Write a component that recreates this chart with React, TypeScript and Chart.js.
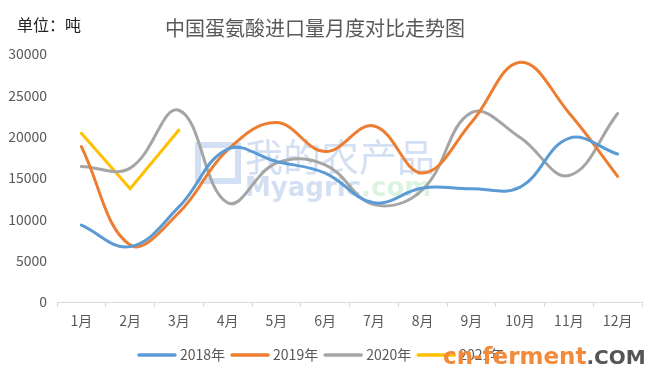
import React, { useEffect, useRef } from "react";
import { Chart, registerables } from "chart.js";

Chart.register(...registerables);

const months = ["1月", "2月", "3月", "4月", "5月", "6月", "7月", "8月", "9月", "10月", "11月", "12月"];
const seriesNames = ["2018年", "2019年", "2020年", "2021年"];
const s2018 = [9300, 6700, 11500, 18500, 17000, 15600, 12000, 13800, 13700, 13900, 19800, 17900];
const s2019 = [18800, 6900, 10800, 18400, 21700, 18200, 21300, 15600, 21700, 29000, 22900, 15200];
const s2020 = [16400, 16200, 23200, 12000, 16800, 16600, 11800, 13600, 22900, 19900, 15300, 22800];
const s2021 = [20400, 13700, 20800];
const yMin = 0;
const yMax = 30000;
const yStep = 5000;
const titleText = "中国蛋氨酸进口量月度对比走势图";
const unitText = "单位：吨";

const colors = ["#5B9BD5", "#ED7D31", "#A5A5A5", "#FFC000"];
const FONT = '"Noto Sans CJK SC", "Noto Sans", sans-serif';

const textPlugin = {
  id: "textPlugin",
  beforeDatasetsDraw(chart: any) {
    const ctx = chart.ctx;
    ctx.save();
    ctx.textBaseline = "middle";
    ctx.textAlign = "left";
    ctx.font = `38px ${FONT}`;
    ctx.fillStyle = "rgba(110,150,215,0.3)";
    ctx.fillText("我的农产品", 245, 157);
    ctx.font = `bold 26px "DejaVu Sans", sans-serif`;
    ctx.fillText("Myagric", 245, 189);
    const w = ctx.measureText("Myagric").width;
    ctx.fillStyle = "rgba(140,215,160,0.3)";
    ctx.fillText(".com", 245 + w, 189);
    ctx.strokeStyle = "rgba(110,150,215,0.3)";
    ctx.lineWidth = 6;
    ctx.strokeRect(198, 145, 40, 36);
    ctx.restore();
  },
  afterDraw(chart: any) {
    const ctx = chart.ctx;
    ctx.save();
    ctx.textBaseline = "middle";
    ctx.textAlign = "left";
    ctx.font = `16px ${FONT}`;
    ctx.fillStyle = "#222222";
    ctx.fillText(unitText, 17, 25);
    ctx.font = `20px ${FONT}`;
    ctx.fillStyle = "#595959";
    ctx.fillText(titleText, 165, 28);
    ctx.font = `14px ${FONT}`;
    let x = 138;
    const y = 355;
    chart.data.datasets.forEach((ds: any) => {
      ctx.strokeStyle = ds.borderColor;
      ctx.lineWidth = 3.5;
      ctx.lineCap = "round";
      ctx.beginPath();
      ctx.moveTo(x + 1, y);
      ctx.lineTo(x + 37, y);
      ctx.stroke();
      ctx.fillStyle = "#595959";
      ctx.fillText(ds.label, x + 42, y);
      x += 42 + ctx.measureText(ds.label).width + 6;
    });
    ctx.font = `bold 23px "DejaVu Sans", sans-serif`;
    ctx.fillStyle = "#F28A3A";
    ctx.fillText("cn-ferment", 443, 358);
    const cw = ctx.measureText("cn-ferment").width;
    ctx.font = `bold 20px "DejaVu Sans", sans-serif`;
    ctx.fillStyle = "#555555";
    ctx.fillText(".COM", 443 + cw, 359);
    ctx.restore();
  },
};

export default function App() {
  const ref = useRef<HTMLCanvasElement>(null);
  useEffect(() => {
    if (!ref.current) return;
    const dataArr = [s2018, s2019, s2020, s2021];
    const chart = new Chart(ref.current, {
      type: "line",
      data: {
        labels: months,
        datasets: dataArr.map((d, i) => ({
          label: seriesNames[i],
          data: d,
          borderColor: colors[i],
          backgroundColor: colors[i],
          borderWidth: 3,
          pointRadius: 0,
          tension: i === 3 ? 0 : 0.4,
          fill: false,
          borderCapStyle: "round" as const,
        })),
      },
      options: {
        responsive: false,
        animation: false,
        layout: { padding: { top: 54, right: 8, bottom: 50, left: 0 } },
        plugins: {
          legend: { display: false },
          title: { display: false },
          tooltip: { enabled: false },
        },
        scales: {
          x: {
            offset: true,
            grid: {
              display: true,
              drawOnChartArea: false,
              drawTicks: true,
              tickLength: 5,
              offset: true,
              color: "#D9D9D9",
            },
            border: { display: true, color: "#D9D9D9" },
            ticks: {
              color: "#595959",
              font: { family: FONT, size: 14 },
              padding: 5,
              maxRotation: 0,
            },
            afterFit(scale: any) {
              scale.height = 30;
            },
          },
          y: {
            min: yMin,
            max: yMax,
            grid: { display: false, drawTicks: false },
            border: { display: false },
            ticks: {
              stepSize: yStep,
              color: "#595959",
              font: { family: FONT, size: 14 },
              padding: 10,
              callback: (v: any) => String(v),
            },
            afterFit(scale: any) {
              scale.width = 57;
            },
          },
        },
      },
      plugins: [textPlugin],
    });
    return () => chart.destroy();
  }, []);
  return (
    <div style={{ position: "absolute", left: 0, top: 0, width: 650, height: 382, background: "#fff" }}>
      <canvas ref={ref} width={650} height={382} style={{ display: "block" }} />
    </div>
  );
}
